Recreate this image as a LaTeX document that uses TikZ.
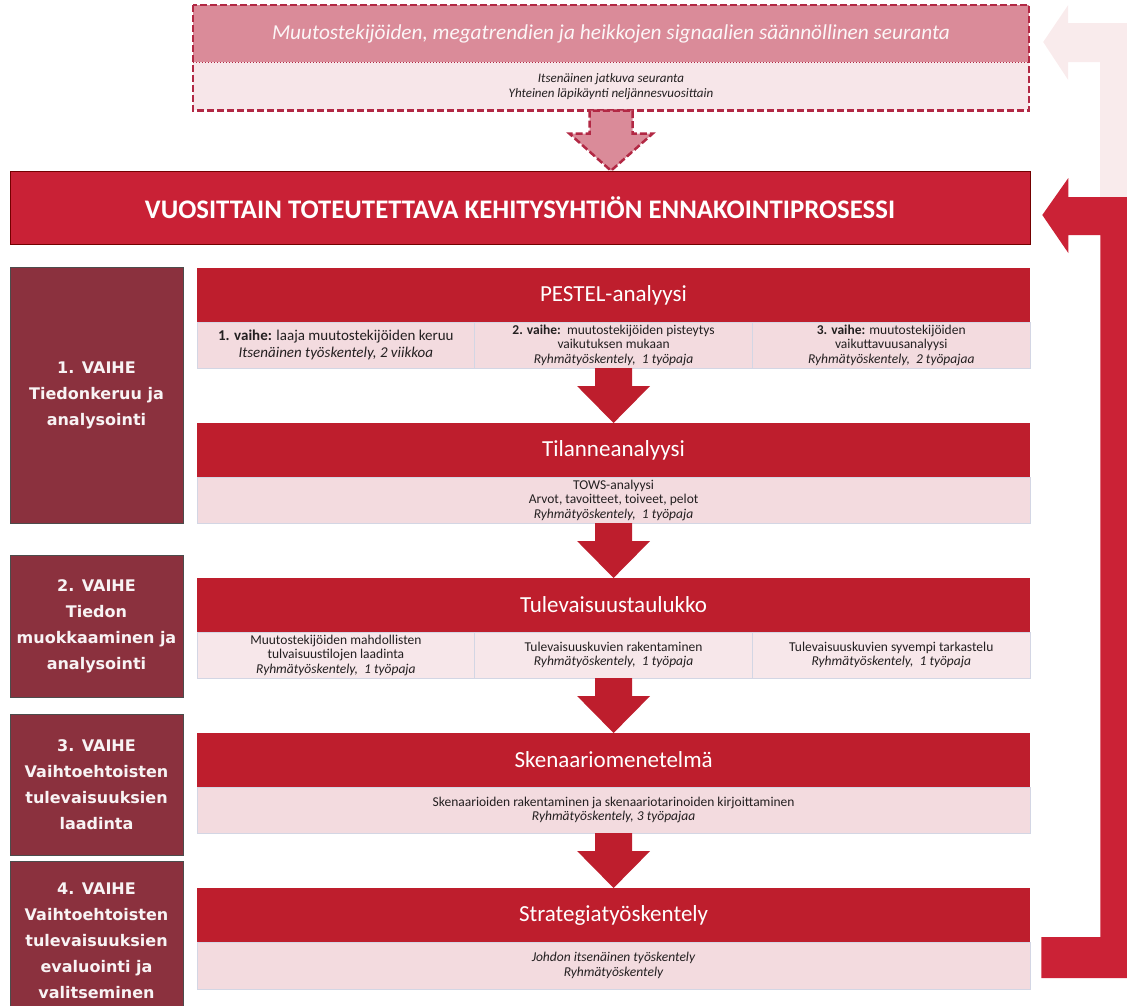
\documentclass[tikz,border=0pt]{standalone}
\usepackage{fontspec}
\setmainfont{Carlito}
\newfontfamily\phasefont{DejaVu Sans}
\usetikzlibrary{positioning,calc}

\definecolor{headred}{RGB}{190,30,45}
\definecolor{mainred}{RGB}{201,33,54}
\definecolor{loopred}{RGB}{203,34,54}
\definecolor{loopfade}{RGB}{249,235,236}
\definecolor{subpink}{RGB}{243,219,223}
\definecolor{cellpink}{RGB}{247,231,234}
\definecolor{cellline}{RGB}{211,214,228}
\definecolor{phasered}{RGB}{139,49,62}
\definecolor{trendpink}{RGB}{218,139,153}
\definecolor{trendpale}{RGB}{247,230,233}
\definecolor{trendline}{RGB}{178,40,68}
\definecolor{textgrey}{RGB}{35,31,32}

% fat arrow: style, from, to, half shaft, half head
\newcommand{\blockarrow}[5]{%
  \filldraw[#1] ($(#2.south)+(-#4,0)$) -- ($(#2.south |- #3.north)+(-#4,37)$)
    -- ($(#2.south |- #3.north)+(-#5,37)$) -- (#2.south |- #3.north)
    -- ($(#2.south |- #3.north)+(#5,37)$) -- ($(#2.south |- #3.north)+(#4,37)$)
    -- ($(#2.south)+(#4,0)$) -- cycle;}

\begin{document}
\begin{tikzpicture}[x=1pt, y=1pt,
    head/.style ={fill=headred, text=white, minimum width=833pt, minimum height=54pt,
      inner sep=0pt, outer sep=0pt, font=\fontsize{23}{27}\selectfont},
    cell/.style ={fill=subpink, draw=cellline, line width=0.8pt, minimum width=277.7pt,
      minimum height=46pt, inner sep=0pt, outer sep=0pt, align=center, text=textgrey,
      font=\fontsize{13.5}{14.5}\selectfont},
    row/.style ={cell, minimum width=833pt},
    phase/.style ={fill=phasered, draw=black!70, line width=0.6pt, minimum width=173pt,
      inner sep=0pt, align=center, text=white!94!phasered,
      font=\phasefont\bfseries\fontsize{16}{26}\selectfont}]
   \useasboundingbox (0,0) rectangle (1127,-1005);
   \clip (0,0) rectangle (1127,-1005);

   % monitoring box on top
   \node[fill=trendpink, minimum width=836pt, minimum height=57pt, inner sep=0pt,
     text=white!92!trendpink, font=\itshape\fontsize{21.3}{25}\selectfont] (trend) at (611,-33.5)
     {Muutostekijöiden, megatrendien ja heikkojen signaalien säännöllinen seuranta};
   \node[fill=trendpale, minimum width=836pt, minimum height=48pt, inner sep=0pt, align=center,
     text=textgrey, font=\itshape\fontsize{13}{15}\selectfont, below=0pt of trend] (trendsub)
     {Itsenäinen jatkuva seuranta\\ Yhteinen läpikäynti neljännesvuosittain};
   \draw[trendline, line width=1pt, dotted] (trend.south west) -- (trend.south east);
   \draw[trendline, line width=2.5pt, dash pattern=on 7pt off 3pt] (trend.north west) rectangle (trendsub.south east);

   \node[fill=mainred, draw=black!55!red, line width=0.6pt, minimum width=1020pt, minimum height=73pt,
     text=white, font=\bfseries\fontsize{26.8}{31}\selectfont] (main) at (520,-207.5)
     {VUOSITTAIN TOTEUTETTAVA KEHITYSYHTIÖN ENNAKOINTIPROSESSI};

   % phases on the left
   \node[phase, minimum height=256pt] (phase1) at (96.5,-395) {1. VAIHE\\ Tiedonkeruu ja\\ analysointi};
   \node[phase, minimum height=142pt] (phase2) at (96.5,-626) {2. VAIHE\\ Tiedon\\ muokkaaminen ja\\ analysointi};
   \node[phase, minimum height=141pt] (phase3) at (96.5,-784.5) {3. VAIHE\\ Vaihtoehtoisten\\ tulevaisuuksien\\ laadinta};
   \node[phase, minimum height=160pt] (phase4) at (96.5,-941) {4. VAIHE\\ Vaihtoehtoisten\\ tulevaisuuksien\\ evaluointi ja\\ valitseminen};

   % process steps
   \node[head] (pestel) at (613.5,-295) {PESTEL-analyysi};
   \node[cell, anchor=north west, font=\fontsize{15}{16.5}\selectfont] (pestel1) at (pestel.south west)
     {\textbf{1. vaihe:} laaja muutostekijöiden keruu\\ \textit{Itsenäinen työskentely, 2 viikkoa}};
   \node[cell, right=0pt of pestel1] (pestel2)
     {\textbf{2. vaihe:}\ \ muutostekijöiden pisteytys\\ vaikutuksen mukaan\\ \textit{Ryhmätyöskentely,\ \ 1 työpaja}};
   \node[cell, right=0pt of pestel2] (pestel3)
     {\textbf{3. vaihe:} muutostekijöiden\\ vaikuttavuusanalyysi\\ \textit{Ryhmätyöskentely,\ \ 2 työpajaa}};

   \node[head, below=55pt of pestel2] (tilanne) {Tilanneanalyysi};
   \node[row, below=0pt of tilanne] (tilannesub)
     {TOWS-analyysi\\ Arvot, tavoitteet, toiveet, pelot\\ \textit{Ryhmätyöskentely,\ \ 1 työpaja}};

   \node[head, below=55pt of tilannesub] (tule) {Tulevaisuustaulukko};
   \node[cell, fill=cellpink, anchor=north west] (tule1) at (tule.south west)
     {Muutostekijöiden mahdollisten\\ tulvaisuustilojen laadinta\\ \textit{Ryhmätyöskentely,\ \ 1 työpaja}};
   \node[cell, fill=cellpink, right=0pt of tule1] (tule2)
     {Tulevaisuuskuvien rakentaminen\\ \textit{Ryhmätyöskentely,\ \ 1 työpaja}};
   \node[cell, fill=cellpink, right=0pt of tule2] (tule3)
     {Tulevaisuuskuvien syvempi tarkastelu\\ \textit{Ryhmätyöskentely,\ \ 1 työpaja}};

   \node[head, below=55pt of tule2] (sken) {Skenaariomenetelmä};
   \node[row, below=0pt of sken] (skensub)
     {Skenaarioiden rakentaminen ja skenaariotarinoiden kirjoittaminen\\ \textit{Ryhmätyöskentely, 3 työpajaa}};

   \node[head, below=55pt of skensub] (strat) {Strategiatyöskentely};
   \node[row, below=0pt of strat, minimum height=47pt] (stratsub)
     {\textit{Johdon itsenäinen työskentely}\\ \textit{Ryhmätyöskentely}};

   % arrows between the steps
   \blockarrow{fill=trendpink, draw=trendline, line width=2.5pt, dash pattern=on 7pt off 3pt}{trendsub}{main}{21.5}{41.5}
   \blockarrow{fill=headred, draw=none}{pestel2}{tilanne}{18.5}{36.5}
   \blockarrow{fill=headred, draw=none}{tilannesub}{tule}{18.5}{36.5}
   \blockarrow{fill=headred, draw=none}{tule2}{sken}{18.5}{36.5}
   \blockarrow{fill=headred, draw=none}{skensub}{strat}{18.5}{36.5}

   % feedback loop on the right
   \coordinate (fadein) at ($(trend.east)+(14,-8.5)$);
   \coordinate (loopin) at ($(main.east)+(12,-7.5)$);
   \fill[loopfade] (fadein) -- ++(25,37) -- ++(0,-18) -- ++(62,0) -- ++(0,-174)
     -- ++(-30,0) -- ++(0,135) -- ++(-32,0) -- ++(0,-18) -- cycle;
   \fill[loopred] (loopin) -- ++(26,37) -- ++(0,-19) -- ++(62,0) -- ++(0,-781)
     -- ++(-89,0) -- ++(0,41) -- ++(59,0) -- ++(0,702) -- ++(-32,0) -- ++(0,-18) -- cycle;

\end{tikzpicture}
\end{document}
